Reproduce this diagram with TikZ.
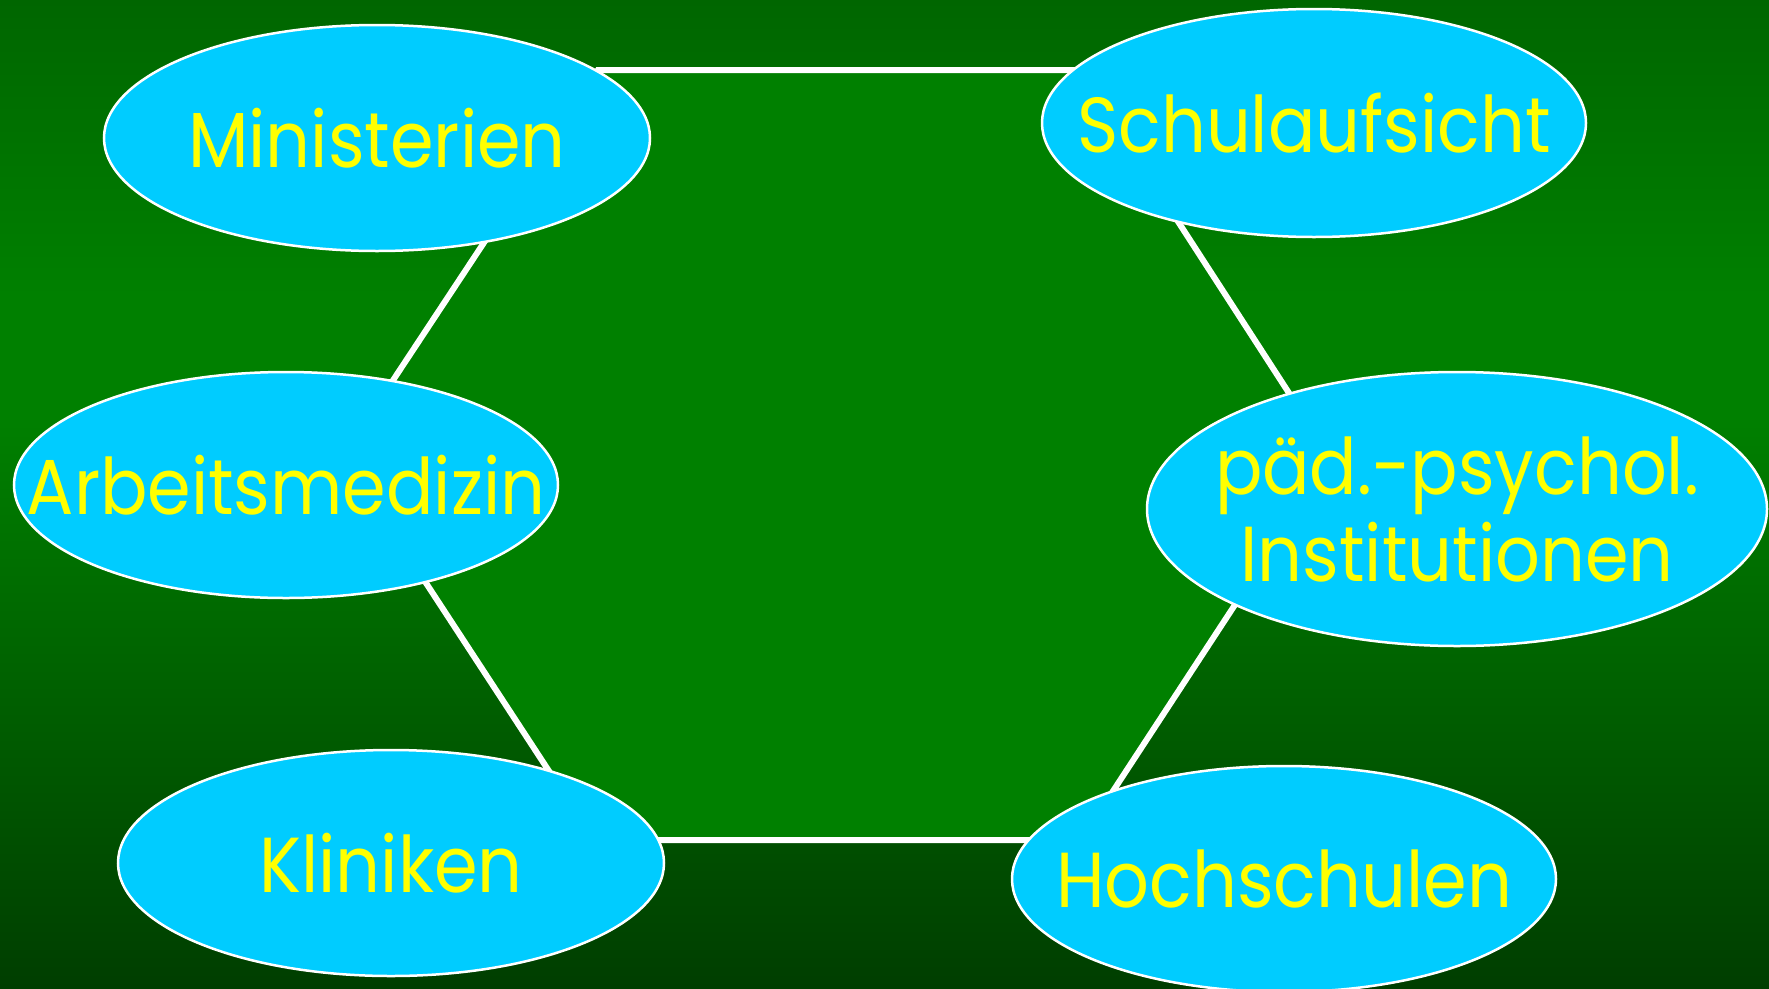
\documentclass[tikz,border=0pt]{standalone}
\usepackage{fontspec}
\setmainfont{Poppins}
\usetikzlibrary{shapes.geometric}
\definecolor{bgtop}{HTML}{006600}
\definecolor{bgmid}{HTML}{008000}
\definecolor{bgbot}{HTML}{003E00}
\definecolor{hexfill}{HTML}{008000}
\definecolor{ellfill}{HTML}{00CCFF}
\definecolor{txtyellow}{HTML}{FFFF00}
\pgfdeclareverticalshading{bgshade}{100bp}{color(0bp)=(bgbot); color(25bp)=(bgbot); color(54bp)=(bgmid); color(60bp)=(bgmid); color(75bp)=(bgtop); color(100bp)=(bgtop)}
\newcommand{\zw}[1]{\makebox[0pt][c]{\scalebox{0.9}[1]{#1}}}
\tikzset{
  bubble/.style={ellipse, draw=white, line width=2.5pt, fill=ellfill, inner sep=0pt,
    text=txtyellow, align=center, font=\fontsize{78}{87}\selectfont},
  hexedge/.style={draw=white, line width=6pt, fill=hexfill, line join=miter}
}
\begin{document}
\begin{tikzpicture}[x=1pt,y=-1pt]
\useasboundingbox (0,0) rectangle (1769,988);
\shade[shading=bgshade] (0,0) rectangle (1769,988);
\coordinate (tl) at (598,70);
\coordinate (tr) at (1080,70);
\coordinate (r) at (1331,458);
\coordinate (br) at (1081,840);
\coordinate (bl) at (594,840);
\coordinate (l) at (343,456);
\path[hexedge] (tl) -- (tr) -- (r) -- (br) -- (bl) -- (l) -- cycle;
\node[bubble, minimum width=546pt, minimum height=226pt] (min) at (377,138) {\zw{Ministerien}};
\node[bubble, minimum width=544pt, minimum height=228pt] (schul) at (1314,123) {\zw{Schulaufsicht}};
\node[bubble, minimum width=544pt, minimum height=226pt] (arb) at (286,485) {\zw{Arbeitsmedizin}};
\node[bubble, minimum width=620pt, minimum height=274pt] (paed) at (1457,509) {\zw{päd.-psychol.}\\\zw{Institutionen}};
\node[bubble, minimum width=546pt, minimum height=226pt] (klin) at (391,863) {\zw{Kliniken}};
\node[bubble, minimum width=544pt, minimum height=226pt] (hoch) at (1284,879) {\zw{Hochschulen}};
\end{tikzpicture}
\end{document}
